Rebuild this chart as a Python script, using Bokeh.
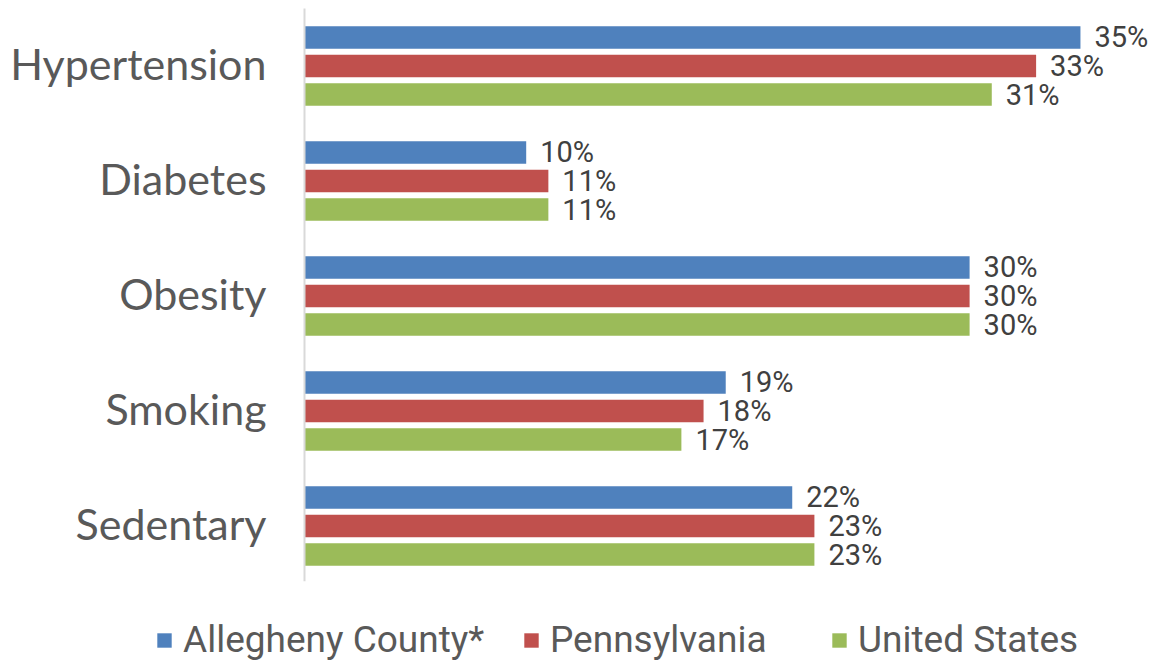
from bokeh.plotting import figure
from bokeh.models import Range1d, Legend, LegendItem, ColumnDataSource
from bokeh.core.properties import value
from bokeh.embed import file_html
from bokeh.resources import INLINE

categories = ["Hypertension", "Diabetes", "Obesity", "Smoking", "Sedentary"]
series_names = ["Allegheny County*", "Pennsylvania", "United States"]
allegheny = [35, 10, 30, 19, 22]
pennsylvania = [33, 11, 30, 18, 23]
united_states = [31, 11, 30, 17, 23]
colors = ["#4F81BD", "#C0504D", "#9BBB59"]

W, H = 1151, 662
AX_PX = 304          # pixel position of the value axis
PX_PER_UNIT = 22.17  # pixels per percentage point
ROW_PX = 115         # pixels per category row
TOP_PX = 8           # top of first row

p = figure(
    width=W, height=H,
    x_range=Range1d(-AX_PX / PX_PER_UNIT, (W - AX_PX) / PX_PER_UNIT),
    y_range=Range1d(-0.5 + (H - TOP_PX) / ROW_PX, -0.5 - TOP_PX / ROW_PX),
    output_backend="svg", toolbar_location=None,
    min_border_left=0, min_border_right=0, min_border_top=0, min_border_bottom=0,
)

idx = list(range(len(categories)))
offsets = [-0.248, 0.0, 0.248]
renderers = []
for name, vals, col, off in zip(series_names, [allegheny, pennsylvania, united_states], colors, offsets):
    src = ColumnDataSource(dict(y=[i + off for i in idx], v=vals, lbl=[f"{x}%" for x in vals]))
    r = p.hbar(y="y", right="v", left=0, height=0.195, source=src,
               fill_color=col, line_color=None)
    p.text(x="v", y="y", text="lbl", source=src,
           x_offset=14, text_baseline="middle", text_align="left",
           text_font=value("Roboto"), text_font_size="29px", text_color="#404040")
    renderers.append(r)

# category labels and the vertical axis line
cat_src = ColumnDataSource(dict(y=idx, x=[0] * len(idx), t=categories))
p.text(x="x", y="y", text="t", source=cat_src, x_offset=-38, y_offset=-3,
       text_align="right", text_baseline="middle",
       text_font=value("Lato"), text_font_size="43px", text_color="#595959")
p.segment(x0=0, y0=-0.5, x1=0, y1=len(categories) - 0.52, line_color="#D9D9D9", line_width=2)

p.xaxis.visible = False
p.yaxis.visible = False
p.xgrid.visible = False
p.ygrid.visible = False
p.outline_line_color = None
p.background_fill_color = "white"

legend_x = [155, 522, 830]
for n, r, lx in zip(series_names, renderers, legend_x):
    legend = Legend(
        items=[LegendItem(label=n, renderers=[r])],
        orientation="horizontal", location=(lx, 1),
        label_text_font="Roboto", label_text_font_size="37px",
        label_text_color="#595959", glyph_width=18, glyph_height=18,
        label_standoff=10, spacing=0, padding=0, margin=0,
        border_line_color=None, background_fill_alpha=0,
    )
    p.add_layout(legend, "center")

open("out.html", "w").write(file_html(p, INLINE))
